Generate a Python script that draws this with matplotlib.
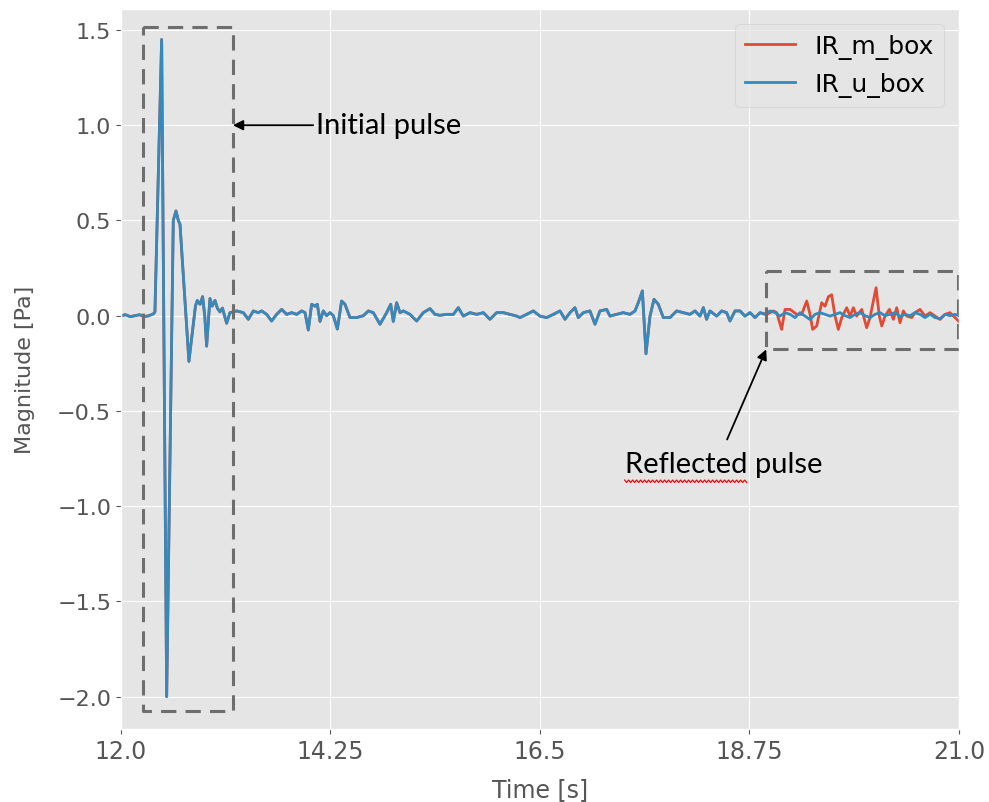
import matplotlib
matplotlib.use("Agg")
import matplotlib.pyplot as plt
import numpy as np

plt.style.use("ggplot")

# ---- data ----
time_head = [12.00, 12.05, 12.10, 12.15, 12.20, 12.25, 12.30, 12.35, 12.365, 12.437,
             12.491, 12.562, 12.591, 12.616, 12.634, 12.730, 12.800, 12.820, 12.850, 12.877,
             12.900, 12.920, 12.956, 12.980, 13.010, 13.035, 13.063, 13.090, 13.135, 13.171,
             13.243, 13.314, 13.368, 13.422, 13.475, 13.511, 13.565, 13.618, 13.672, 13.726,
             13.780, 13.833, 13.887, 13.941, 13.977, 14.012, 14.048, 14.084, 14.109, 14.138,
             14.173, 14.209, 14.245, 14.281, 14.324, 14.370, 14.406, 14.460, 14.531, 14.603,
             14.657, 14.710, 14.782, 14.854, 14.897, 14.925, 14.961, 14.997, 15.033, 15.104,
             15.176, 15.247, 15.319, 15.373, 15.426, 15.498, 15.570, 15.623, 15.677, 15.749,
             15.820, 15.892, 15.963, 16.035, 16.107, 16.178, 16.250, 16.286, 16.357, 16.429,
             16.500, 16.572, 16.644, 16.715, 16.769, 16.823, 16.876, 16.912, 16.966, 17.037,
             17.091, 17.145, 17.216, 17.252, 17.324, 17.395, 17.467, 17.521, 17.556, 17.600,
             17.639, 17.682, 17.725, 17.771, 17.825, 17.897, 17.968, 18.040, 18.111, 18.165,
             18.219, 18.255, 18.290, 18.326, 18.398, 18.452, 18.505, 18.541, 18.595, 18.649,
             18.702, 18.756]
ir_head = [0.000, 0.005, -0.005, 0.000, 0.005, -0.005, 0.000, 0.010, 0.020, 1.450,
           -2.000, 0.500, 0.550, 0.500, 0.480, -0.240, 0.050, 0.080, 0.060, 0.100,
           0.000, -0.160, 0.090, 0.050, 0.080, 0.040, 0.020, 0.040, -0.040, 0.016,
           0.025, 0.016, -0.019, 0.025, 0.016, 0.025, 0.007, -0.028, 0.007, 0.033,
           0.007, 0.016, 0.007, 0.025, 0.016, -0.075, 0.060, 0.050, 0.060, -0.030,
           0.025, 0.000, 0.016, 0.000, -0.070, 0.077, 0.060, -0.010, -0.010, 0.000,
           0.025, 0.016, -0.045, 0.016, 0.060, -0.030, 0.068, 0.016, 0.025, 0.007,
           -0.028, 0.016, 0.037, 0.007, 0.002, 0.007, 0.007, 0.042, -0.002, 0.016,
           0.007, 0.016, -0.019, 0.016, 0.016, 0.007, -0.002, -0.010, 0.007, 0.025,
           -0.002, -0.010, 0.007, 0.025, -0.019, 0.016, 0.042, -0.010, 0.016, 0.025,
           -0.045, 0.025, 0.033, -0.002, 0.007, 0.016, 0.007, 0.025, 0.068, 0.130,
           -0.200, -0.002, 0.086, 0.060, -0.010, -0.010, 0.025, 0.016, 0.007, 0.025,
           -0.002, 0.042, -0.019, 0.025, -0.002, 0.025, 0.016, -0.028, 0.025, 0.025,
           -0.002, 0.016]

time_tail_u = [18.810, 18.864, 18.917, 18.971, 19.025, 19.079, 19.132, 19.186, 19.240, 19.293,
               19.347, 19.401, 19.455, 19.508, 19.562, 19.616, 19.669, 19.723, 19.777, 19.830,
               19.884, 19.938, 19.992, 20.045, 20.099, 20.153, 20.206, 20.260, 20.314, 20.367,
               20.421, 20.475, 20.528, 20.582, 20.636, 20.690, 20.743, 20.797, 20.851, 20.904,
               20.958, 21.000]
ir_u_tail = [-0.010, 0.016, 0.007, 0.025, 0.016, -0.002, 0.016, 0.007, -0.010, 0.016,
             -0.002, -0.020, 0.007, 0.016, 0.007, -0.002, 0.007, 0.016, 0.000, -0.010,
             0.007, 0.016, 0.000, -0.010, 0.007, 0.016, 0.000, 0.007, 0.016, -0.005,
             0.007, 0.000, 0.016, 0.007, -0.010, 0.007, -0.010, -0.015, 0.007, 0.000,
             0.007, 0.000]

time_tail_m = [18.810, 18.864, 18.935, 19.007, 19.043, 19.096, 19.132, 19.186, 19.258, 19.311,
               19.365, 19.401, 19.429, 19.472, 19.526, 19.562, 19.598, 19.633, 19.669, 19.705,
               19.741, 19.795, 19.830, 19.866, 19.902, 19.956, 20.009, 20.045, 20.074, 20.110,
               20.145, 20.171, 20.206, 20.253, 20.296, 20.332, 20.367, 20.403, 20.439, 20.493,
               20.528, 20.582, 20.636, 20.690, 20.743, 20.797, 20.851, 20.904, 20.958, 21.000]
ir_m_tail = [-0.010, 0.016, 0.007, 0.025, 0.016, -0.072, 0.033, 0.033, 0.007, 0.007,
             0.077, 0.007, -0.072, -0.054, 0.068, 0.050, 0.100, 0.110, -0.002, -0.072,
             -0.010, 0.042, -0.002, 0.042, -0.002, 0.033, -0.063, -0.010, 0.060, 0.147,
             -0.002, -0.054, -0.002, 0.033, -0.019, 0.042, -0.037, 0.025, -0.002, -0.010,
             0.016, 0.033, -0.002, 0.016, -0.002, -0.020, 0.007, 0.016, -0.010, -0.030]

time_m = time_head + time_tail_m
ir_m_box = ir_head + ir_m_tail
time_u = time_head + time_tail_u
ir_u_box = ir_head + ir_u_tail

x_ticks = [12.0, 14.25, 16.5, 18.75, 21.0]
x_tick_labels = ["12.0", "14.25", "16.5", "18.75", "21.0"]
y_ticks = [-2.0, -1.5, -1.0, -0.5, 0.0, 0.5, 1.0, 1.5]

# ---- figure ----
fig = plt.figure(figsize=(9.89, 8.03), dpi=100)
ax = fig.add_axes([0.1223, 0.0909, 0.8473, 0.8966])

ax.plot(time_m, ir_m_box, color="#E24A33", lw=2.0, label="IR_m_box")
ax.plot(time_u, ir_u_box, color="#348ABD", lw=2.0, label="IR_u_box")

ax.set_xlim(12.0, 21.0)
ax.set_ylim(-2.17, 1.61)
ax.set_xticks(x_ticks)
ax.set_xticklabels(x_tick_labels)
ax.set_yticks(y_ticks)
ax.tick_params(axis="x", labelsize=17, colors="#555555")
ax.tick_params(axis="y", labelsize=16, colors="#555555")
ax.set_xlabel("Time [s]", fontsize=17, color="#555555", labelpad=10)
ax.set_ylabel("Magnitude [Pa]", fontsize=16, color="#555555", labelpad=16)

leg = ax.legend(loc="upper right", fontsize=18, handlelength=2.0,
                borderaxespad=0.6)
for t in leg.get_texts():
    t.set_color("black")

# dashed highlight boxes
box_style = dict(color="#6e6e6e", lw=2.2, linestyle=(0, (5, 3)))
bx1 = [12.236, 13.203, 13.203, 12.236, 12.236]
by1 = [1.516, 1.516, -2.074, -2.074, 1.516]
ax.plot(bx1, by1, **box_style)
bx2 = [18.93, 20.99, 20.99, 18.93, 18.93]
by2 = [0.233, 0.233, -0.177, -0.177, 0.233]
ax.plot(bx2, by2, **box_style)

ann_font = dict(family="Lato", fontsize=21, color="black")
ax.annotate("Initial pulse", xy=(13.203, 1.0), xytext=(14.095, 1.0),
            va="center", ha="left",
            arrowprops=dict(arrowstyle="-|>", color="black", lw=1.3,
                            mutation_scale=15, shrinkA=0, shrinkB=0),
            **ann_font)
refl = ax.annotate("Reflected pulse", xy=(18.93, -0.177), xytext=(17.41, -0.78),
                   va="center", ha="left", **ann_font)
ax.annotate("", xy=(18.93, -0.177), xytext=(18.51, -0.65),
            arrowprops=dict(arrowstyle="-|>", color="black", lw=1.3,
                            mutation_scale=15, shrinkA=0, shrinkB=0))

# red spell-check squiggle under "Reflected"
meas = ax.text(17.41, -0.78, "Reflected", va="center", ha="left", alpha=0, **ann_font)
fig.canvas.draw()
bb = meas.get_window_extent()
xs = np.arange(bb.x0, bb.x1, 2.0)
ys = bb.y0 - 4 + np.where(np.arange(len(xs)) % 2 == 0, 1.2, -1.2)
ax.plot(xs, ys, color="red", lw=0.9, transform=None, clip_on=False)

fig.savefig("out.png", dpi=100)
